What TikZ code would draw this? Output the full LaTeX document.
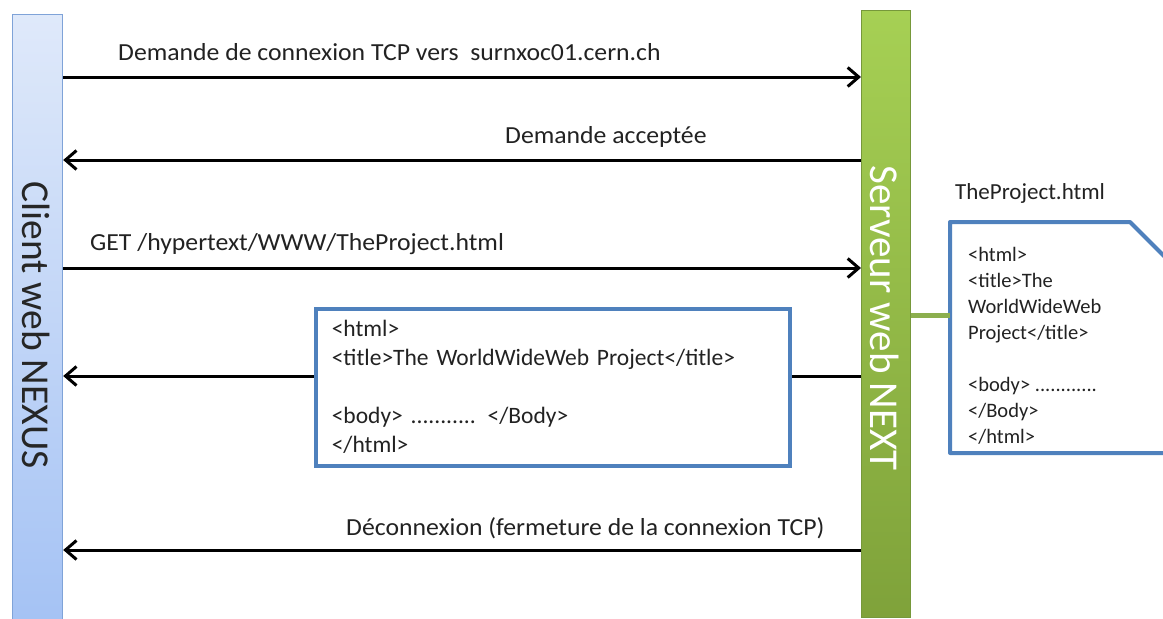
\documentclass[tikz,border=0pt]{standalone}
\usepackage{fontspec}
\setmainfont{Carlito}
\newfontfamily\lblfont{Carlito}[FakeStretch=1.05]
\usetikzlibrary{arrows.meta}
\definecolor{txt}{HTML}{222222}
\definecolor{blueline}{HTML}{4F81BD}
\definecolor{cltop}{HTML}{DFE9FA}
\definecolor{clbot}{HTML}{A4C2F4}
\definecolor{clborder}{HTML}{7FA3D8}
\definecolor{svtop}{HTML}{A6D054}
\definecolor{svbot}{HTML}{7FA23A}
\definecolor{svborder}{HTML}{76983A}
\definecolor{link}{HTML}{8CAF4E}
\tikzset{
  msg/.style={line width=3pt, draw=black, -{Straight Barb[length=11pt,width=19pt,line width=3pt]}},
  lbl/.style={text=txt, inner sep=0pt, font=\lblfont\fontsize{24.5}{29}\selectfont},
  bartext/.style={rotate=-90, inner sep=0pt},
  htmlbox/.style={draw=blueline, line width=3.5pt, fill=white, text=txt, align=left,
    inner xsep=16pt, inner ysep=0pt, font=\fontsize{23.5}{29}\selectfont},
}
\begin{document}
\begin{tikzpicture}[x=1pt,y=-1pt]
\useasboundingbox (0,0) rectangle (1163,619);
\fill[white] (0,0) rectangle (1163,619);
\clip (0,0) rectangle (1163,619);

% lifelines
\node[draw=clborder, line width=1.2pt, top color=cltop, bottom color=clbot,
      minimum width=50pt, minimum height=615pt, inner sep=0pt, anchor=north west] (client) at (12,14) {};
\node[draw=svborder, line width=1.2pt, top color=svtop, bottom color=svbot,
      minimum width=49pt, minimum height=607pt, inner sep=0pt, anchor=north west] (server) at (861,10) {};
\node[bartext, text=black!85, font=\fontsize{39.5}{44}\selectfont] (clientlbl) at (36,325) {Client web NEXUS};
\node[bartext, text=white, font=\fontsize{41}{46}\selectfont] (serverlbl) at (885,318) {Serveur web NEXT};

% messages
\node[lbl, anchor=west] (l1) at (118,52) {Demande de connexion TCP vers\ \ surnxoc01.cern.ch};
\draw[msg] (client.east |- 0,77) -- (server.west |- 0,77);

\node[lbl, anchor=west] (l2) at (505,137) {Demande acceptée};
\draw[msg] (server.west |- 0,160) -- (client.east |- 0,160);

\node[lbl, anchor=west] (l3) at (90,244) {GET /hypertext/WWW/TheProject.html};
\draw[msg] (client.east |- 0,268) -- (server.west |- 0,268);

\draw[msg] (server.west |- 0,376) -- (client.east |- 0,376);
\node[htmlbox, minimum width=474pt, minimum height=157pt, text width=442pt, anchor=north west] (resp) at (314,307)
  {<html>\\<title>The WorldWideWeb Project</title>\\[29pt]<body> ........... </Body>\\</html>};

\node[lbl, anchor=west] (l5) at (346,528) {Déconnexion (fermeture de la connexion TCP)};
\draw[msg] (server.west |- 0,550) -- (client.east |- 0,550);

% document on the server
\node[lbl, anchor=west, font=\fontsize{23}{28}\selectfont] (doctitle) at (955,193) {TheProject.html};
\draw[blueline, line width=4pt, line join=round, fill=white]
  (950,222) -- (1130,222) -- (1195,287) -- (1195,453) -- (950,453) -- cycle;
\coordinate (docleft) at (950,315);
\draw[link, line width=5pt] (server.east |- docleft) -- (docleft);
\node[text=txt, align=left, inner sep=0pt, anchor=west, font=\fontsize{20.5}{26}\selectfont] (doc) at (968,346)
  {<html>\\<title>The\\WorldWideWeb\\Project</title>\\[26pt]<body> ............\\</Body>\\</html>};
\end{tikzpicture}
\end{document}
